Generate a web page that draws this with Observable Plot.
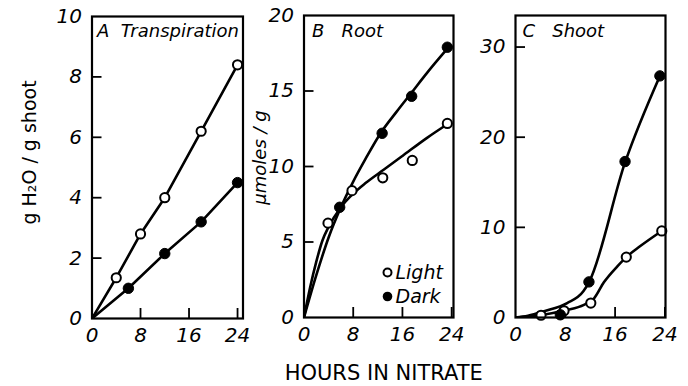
<!DOCTYPE html>
<html>
<head>
<meta charset="utf-8">
<script src="https://cdn.jsdelivr.net/npm/d3@7"></script>
<script src="https://cdn.jsdelivr.net/npm/@observablehq/plot@0.6"></script>
<style>
  html, body { margin: 0; padding: 0; background: #fff; }
  #chart { display: flex; width: 688px; height: 386px; overflow: hidden; background: #fff; }
  #chart svg { display: block; overflow: visible; }
</style>
</head>
<body>
<div id="chart"></div>
<script>
// ---- Tick labels ----
const xTicks = [0, 8, 16, 24];
const aYTicks = [0, 2, 4, 6, 8, 10];
const bYTicks = [0, 5, 10, 15, 20];
const cYTicks = [0, 10, 20, 30];

// ---- Text ----
const xTitle = "HOURS IN NITRATE";
const aTitle = "A\u00a0 Transpiration";
const bTitle = "B\u00a0\u00a0 Root";
const cTitle = "C\u00a0\u00a0 Shoot";
const aYLabel = "g H\u2082O / g shoot";
const bYLabel = "\u03bcmoles / g";
const legendLabels = ["Light", "Dark"];

// ---- Panel A: Transpiration (g H2O / g shoot) ----
const aLightHours = [4, 8, 12, 18, 24];
const aLightValues = [1.35, 2.8, 4.0, 6.2, 8.4];
const aDarkHours = [6, 12, 18, 24];
const aDarkValues = [1.0, 2.15, 3.2, 4.5];

// ---- Panel B: Root (umoles / g) ----
const bLightHours = [3.9, 7.8, 12.8, 17.6, 23.3];
const bLightValues = [6.25, 8.4, 9.25, 10.4, 12.85];
const bDarkHours = [5.8, 12.7, 17.5, 23.3];
const bDarkValues = [7.3, 12.2, 14.65, 17.9];
// fitted curves
const bLightCurveHours = [0, 1, 2, 3, 4, 6, 8, 10, 13, 16, 20, 23.3];
const bLightCurveValues = [0, 2.0, 3.7, 5.1, 6.0, 7.3, 8.2, 8.9, 9.8, 10.7, 11.9, 12.8];
const bDarkCurveHours = [0, 2, 4, 6, 8, 10, 12.6, 15, 17.5, 20, 23.3];
const bDarkCurveValues = [0, 2.8, 5.3, 7.3, 9.0, 10.5, 12.3, 13.6, 14.9, 16.2, 17.8];

// ---- Panel C: Shoot (umoles / g) ----
const cLightHours = [4.1, 7.8, 12.1, 17.8, 23.5];
const cLightValues = [0.25, 0.75, 1.6, 6.7, 9.6];
const cDarkHours = [7.2, 11.8, 17.6, 23.2];
const cDarkValues = [0.3, 3.95, 17.3, 26.8];
const cLightCurveHours = [0, 4, 8, 11, 12.6, 14.2, 16.4, 17.8, 20, 23.5];
const cLightCurveValues = [0, 0.25, 0.8, 1.4, 2.1, 3.9, 5.7, 6.7, 7.9, 9.6];
const cDarkCurveHours = [0, 2, 4.6, 8.3, 10.9, 11.8, 17.6, 23.2];
const cDarkCurveValues = [0, 0.2, 0.7, 1.6, 2.9, 3.9, 17.2, 26.8];

const zip = (xs, ys) => xs.map((x, i) => ({h: x, v: ys[i]}));
const origin = {h: 0, v: 0};
const FONT = "DejaVu Sans";

function openDots(data) {
  return Plot.dot(data, {x: "h", y: "v", r: 4.6, fill: "white", stroke: "black", strokeWidth: 2});
}
function filledDots(data) {
  return Plot.dot(data, {x: "h", y: "v", r: 5.2, fill: "black", stroke: "black", strokeWidth: 1});
}
function curve(data, c = "linear") {
  return Plot.line(data, {x: "h", y: "v", stroke: "black", strokeWidth: 2.6, curve: c, clip: true});
}

function panel({width, marginLeft, marginRight, marginTop, marginBottom, xMax, yDomain, yTicks, innerY, innerX, marks}) {
  const height = 386;
  const fw = width - marginLeft - marginRight;
  const fh = height - marginTop - marginBottom;
  return Plot.plot({
    width, height, marginLeft, marginRight, marginTop, marginBottom,
    x: {domain: [0, xMax]},
    y: {domain: yDomain},
    style: {fontFamily: FONT, fontSize: "20px", color: "black", background: "transparent", overflow: "visible"},
    marks: [
      Plot.axisX(xTicks, {tickSize: 0, tickPadding: 9, fontSize: 20, fontStyle: "italic", label: null, fontFamily: FONT}),
      Plot.axisY(yTicks, {tickSize: 0, tickPadding: 10, fontSize: 20, fontStyle: "italic", label: null, fontFamily: FONT}),
      Plot.tickY(innerY, {y: d => d, insetRight: fw - 10, strokeWidth: 1.8}),
      Plot.tickX(innerX, {x: d => d, insetTop: fh - 10, strokeWidth: 1.8}),
      ...marks,
      Plot.frame({strokeWidth: 2.2})
    ]
  });
}

// Panel A
const plotA = panel({
  width: 250, marginLeft: 91.5, marginRight: 7.5, marginTop: 16, marginBottom: 68,
  xMax: 24.9, yDomain: [0, 10], yTicks: aYTicks,
  innerY: aYTicks.slice(1, -1), innerX: xTicks.slice(1),
  marks: [
    curve([origin, ...zip(aLightHours, aLightValues)]),
    curve([origin, ...zip(aDarkHours, aDarkValues)]),
    openDots(zip(aLightHours, aLightValues)),
    filledDots(zip(aDarkHours, aDarkValues)),
    Plot.text([aTitle], {frameAnchor: "top-left", dx: 5, dy: 8, textAnchor: "start", lineAnchor: "top", fontSize: 18, fontStyle: "italic"}),
    Plot.text([aYLabel], {frameAnchor: "left", dx: -62, dy: -15, rotate: -90, textAnchor: "middle", lineAnchor: "middle", fontSize: 19, letterSpacing: 0.8})
  ]
});

// Panel B
const plotB = panel({
  width: 210, marginLeft: 53.5, marginRight: 7, marginTop: 15, marginBottom: 69,
  xMax: 24.3, yDomain: [0, 20], yTicks: bYTicks,
  innerY: bYTicks.slice(1, -1), innerX: xTicks.slice(1),
  marks: [
    curve(zip(bLightCurveHours, bLightCurveValues), "monotone-x"),
    curve(zip(bDarkCurveHours, bDarkCurveValues), "monotone-x"),
    openDots(zip(bLightHours, bLightValues)),
    filledDots(zip(bDarkHours, bDarkValues)),
    Plot.text([bTitle], {frameAnchor: "top-left", dx: 8, dy: 9, textAnchor: "start", lineAnchor: "top", fontSize: 18, fontStyle: "italic"}),
    Plot.text([bYLabel], {frameAnchor: "left", dx: -44, dy: -9, rotate: -90, textAnchor: "middle", lineAnchor: "middle", fontSize: 18, fontStyle: "italic"}),
    // legend
    Plot.dot([legendLabels[0]], {frameAnchor: "bottom-right", dx: -66, dy: -45, r: 4, fill: "white", stroke: "black", strokeWidth: 2}),
    Plot.dot([legendLabels[1]], {frameAnchor: "bottom-right", dx: -66, dy: -21, r: 4.8, fill: "black"}),
    Plot.text([legendLabels[0]], {frameAnchor: "bottom-right", dx: -58, dy: -45, textAnchor: "start", lineAnchor: "middle", fontSize: 19, fontStyle: "italic"}),
    Plot.text([legendLabels[1]], {frameAnchor: "bottom-right", dx: -58, dy: -21, textAnchor: "start", lineAnchor: "middle", fontSize: 19, fontStyle: "italic"}),
    Plot.text([xTitle], {frameAnchor: "bottom", dx: 5, dy: 48, textAnchor: "middle", lineAnchor: "top", fontSize: 21, fontStyle: "normal", letterSpacing: 0.6})
  ]
});

// Panel C
const plotC = panel({
  width: 228, marginLeft: 55, marginRight: 23, marginTop: 15, marginBottom: 69,
  xMax: 24.1, yDomain: [0, 33.5], yTicks: cYTicks,
  innerY: cYTicks.slice(1), innerX: xTicks.slice(1),
  marks: [
    curve(zip(cLightCurveHours, cLightCurveValues), "monotone-x"),
    curve(zip(cDarkCurveHours, cDarkCurveValues), "monotone-x"),
    openDots(zip(cLightHours, cLightValues)),
    filledDots(zip(cDarkHours, cDarkValues)),
    Plot.text([cTitle], {frameAnchor: "top-left", dx: 7, dy: 9, textAnchor: "start", lineAnchor: "top", fontSize: 18, fontStyle: "italic"})
  ]
});

const el = document.getElementById("chart");
el.append(plotA, plotB, plotC);
</script>
</body>
</html>
